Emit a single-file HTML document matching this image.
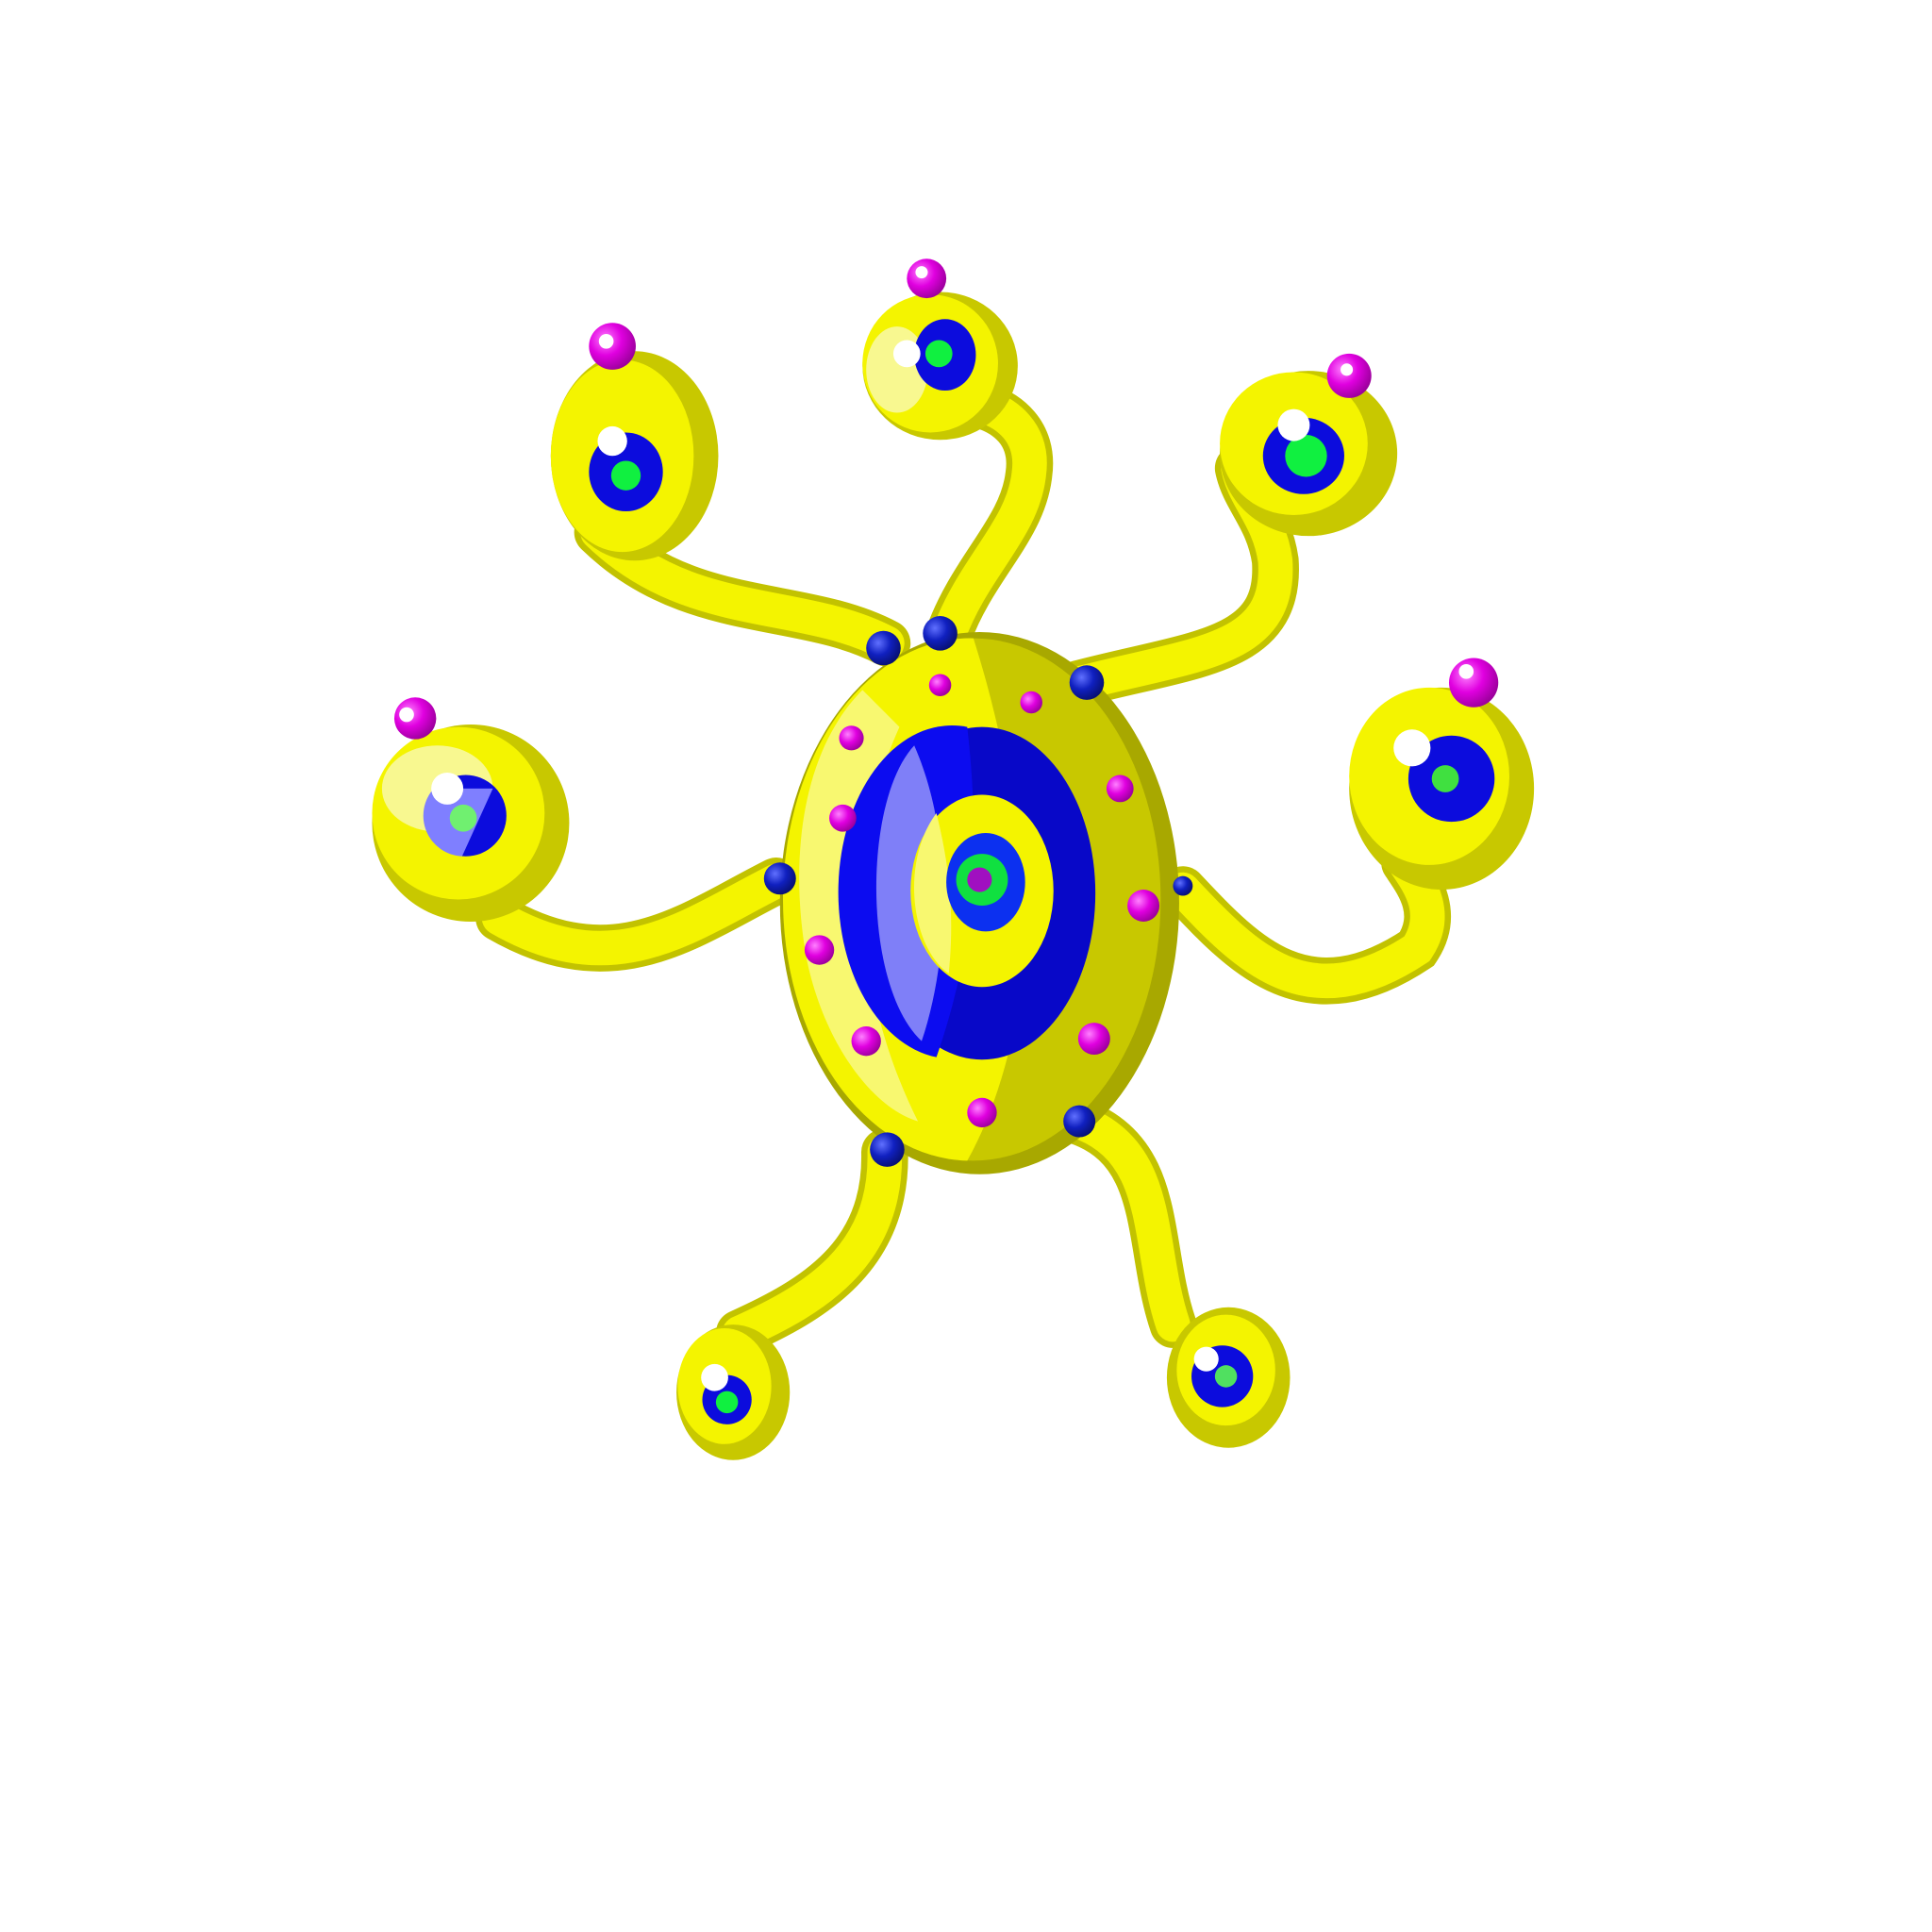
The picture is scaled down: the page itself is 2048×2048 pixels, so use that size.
<!DOCTYPE html>
<html><head><meta charset="utf-8"><style>html,body{margin:0;padding:0;background:#fff;width:2048px;height:2048px;overflow:hidden}</style></head>
<body>
<svg width="2048" height="2048" viewBox="0 0 1568 1568" xmlns="http://www.w3.org/2000/svg">
<defs>
<radialGradient id="mag" cx="0.35" cy="0.35" r="0.7"><stop offset="0" stop-color="#ff80ff"/><stop offset="0.5" stop-color="#e000e0"/><stop offset="1" stop-color="#9a009a"/></radialGradient>
<radialGradient id="blu" cx="0.35" cy="0.35" r="0.7"><stop offset="0" stop-color="#6070ff"/><stop offset="0.5" stop-color="#1020c0"/><stop offset="1" stop-color="#081070"/></radialGradient>
</defs>
<g fill="none" stroke-linecap="round">
<g stroke="#c2c200" stroke-width="38">
<path d="M770 515 C790 460 830 430 835 385 C840 350 815 335 800 330"/>
<path d="M720 522 C650 485 560 505 485 432"/>
<path d="M875 555 C970 530 1040 530 1035 455 C1030 420 1010 405 1005 380"/>
<path d="M630 715 C560 750 500 800 405 745"/>
<path d="M960 722 C1010 775 1060 830 1150 770 C1170 740 1150 715 1140 700"/>
<path d="M718 935 C720 1020 660 1055 600 1082"/>
<path d="M875 910 C945 935 930 1010 952 1075"/>
</g>
<g stroke="#f4f400" stroke-width="28">
<path d="M770 515 C790 460 830 430 835 385 C840 350 815 335 800 330"/>
<path d="M720 522 C650 485 560 505 485 432"/>
<path d="M875 555 C970 530 1040 530 1035 455 C1030 420 1010 405 1005 380"/>
<path d="M630 715 C560 750 500 800 405 745"/>
<path d="M960 722 C1010 775 1060 830 1150 770 C1170 740 1150 715 1140 700"/>
<path d="M718 935 C720 1020 660 1055 600 1082"/>
<path d="M875 910 C945 935 930 1010 952 1075"/>
</g>
</g>
<g>
<g><ellipse cx="763" cy="297" rx="63" ry="60" fill="#c8c800"/><ellipse cx="755" cy="295" rx="55" ry="56" fill="#f4f400"/><ellipse cx="728" cy="300" rx="25" ry="35" fill="#f8f890"/><ellipse cx="767" cy="288" rx="25" ry="29" fill="#0c0cdd"/><circle cx="762" cy="287" r="11" fill="#10f040"/><circle cx="736" cy="287" r="11" fill="#fff"/></g>
<g><ellipse cx="515" cy="370" rx="68" ry="85" fill="#c8c800"/><ellipse cx="505" cy="370" rx="58" ry="78" fill="#f4f400"/><ellipse cx="508" cy="383" rx="30" ry="32" fill="#0c0cdd"/><circle cx="508" cy="386" r="12" fill="#10f040"/><circle cx="497" cy="358" r="12" fill="#fff"/></g>
<g><ellipse cx="1062" cy="368" rx="72" ry="67" fill="#c8c800"/><ellipse cx="1050" cy="360" rx="60" ry="58" fill="#f4f400"/><ellipse cx="1058" cy="370" rx="33" ry="31" fill="#0c0cdd"/><circle cx="1060" cy="370" r="17" fill="#10f040"/><circle cx="1050" cy="345" r="13" fill="#fff"/></g>
<g><ellipse cx="382" cy="668" rx="80" ry="80" fill="#c8c800"/><ellipse cx="372" cy="660" rx="70" ry="70" fill="#f4f400"/><ellipse cx="355" cy="640" rx="45" ry="35" fill="#f8f890"/><circle cx="378" cy="662" r="33" fill="#0c0cdd"/><path d="M352 640 A33 33 0 0 0 375 695 L400 640 Z" fill="#7f7fff"/><circle cx="376" cy="664" r="11" fill="#70f070"/><circle cx="363" cy="640" r="13" fill="#fff"/></g>
<g><ellipse cx="1170" cy="640" rx="75" ry="82" fill="#c8c800"/><ellipse cx="1160" cy="630" rx="65" ry="72" fill="#f4f400"/><circle cx="1178" cy="632" r="35" fill="#0c0cdd"/><circle cx="1173" cy="632" r="11" fill="#40e040"/><circle cx="1146" cy="607" r="15" fill="#fff"/></g>
<g><ellipse cx="595" cy="1130" rx="46" ry="55" fill="#c8c800"/><ellipse cx="588" cy="1125" rx="38" ry="47" fill="#f4f400"/><circle cx="590" cy="1136" r="20" fill="#0c0cdd"/><circle cx="590" cy="1138" r="9" fill="#10f040"/><circle cx="580" cy="1118" r="11" fill="#fff"/></g>
<g><ellipse cx="997" cy="1118" rx="50" ry="57" fill="#c8c800"/><ellipse cx="995" cy="1112" rx="40" ry="45" fill="#f4f400"/><circle cx="992" cy="1117" r="25" fill="#0c0cdd"/><circle cx="995" cy="1117" r="9" fill="#50e060"/><circle cx="979" cy="1103" r="10" fill="#fff"/></g>
</g>
<g>
<circle cx="752" cy="226" r="16" fill="url(#mag)"/><circle cx="748" cy="221" r="5" fill="#fff"/>
<circle cx="497" cy="281" r="19" fill="url(#mag)"/><circle cx="492" cy="277" r="6" fill="#fff"/>
<circle cx="1095" cy="305" r="18" fill="url(#mag)"/><circle cx="1093" cy="300" r="5" fill="#fff"/>
<circle cx="337" cy="583" r="17" fill="url(#mag)"/><circle cx="330" cy="580" r="6" fill="#fff"/>
<circle cx="1196" cy="554" r="20" fill="url(#mag)"/><circle cx="1190" cy="545" r="6" fill="#fff"/>
</g>
<g>
<ellipse cx="795" cy="733" rx="162" ry="220" fill="#a8a800"/>
<ellipse cx="790" cy="730" rx="152" ry="212" fill="#c8c800"/>
<path d="M790 518 A152 212 0 0 0 785 942 C820 880 840 780 830 700 C815 600 800 550 790 518 Z" fill="#f4f400"/>
<path d="M700 560 C650 610 640 700 655 780 C670 850 710 900 745 910 C700 820 680 700 730 590 Z" fill="#f8f870"/>
<ellipse cx="797" cy="725" rx="92" ry="135" fill="#0808c8"/>
<path d="M785 590 A92 135 0 0 0 760 858 C780 800 800 720 785 590 Z" fill="#0c0cf0"/>
<path d="M742 605 C700 650 700 800 748 845 C770 780 775 680 742 605 Z" fill="#7f7ff8"/>
<ellipse cx="797" cy="723" rx="58" ry="78" fill="#f4f400"/>
<path d="M760 660 C730 700 740 770 770 790 C775 740 770 700 760 660 Z" fill="#f8f870"/>
<ellipse cx="800" cy="716" rx="32" ry="40" fill="#0c30f0"/>
<circle cx="797" cy="714" r="21" fill="#10e040"/>
<circle cx="795" cy="714" r="10" fill="#a010c0"/>
</g>
<g fill="url(#mag)">
<circle cx="763" cy="556" r="9"/><circle cx="837" cy="570" r="9"/><circle cx="691" cy="599" r="10"/>
<circle cx="909" cy="640" r="11"/><circle cx="684" cy="664" r="11"/><circle cx="928" cy="735" r="13"/>
<circle cx="665" cy="771" r="12"/><circle cx="703" cy="845" r="12"/><circle cx="888" cy="843" r="13"/>
<circle cx="797" cy="903" r="12"/>
</g>
<g fill="url(#blu)">
<circle cx="763" cy="514" r="14"/><circle cx="717" cy="526" r="14"/><circle cx="882" cy="554" r="14"/>
<circle cx="633" cy="713" r="13"/><circle cx="960" cy="719" r="8"/><circle cx="720" cy="933" r="14"/>
<circle cx="876" cy="910" r="13"/>
</g>
</svg>
</body></html>
